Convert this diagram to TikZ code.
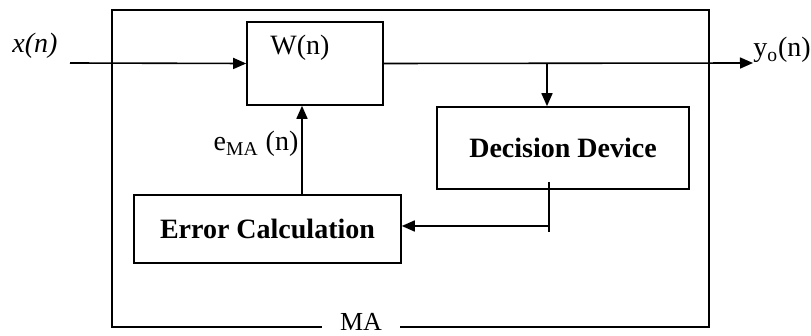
\documentclass[tikz,border=0pt]{standalone}
\usepackage{fontspec}
\setmainfont{Liberation Serif}
\usepackage{tikz}
\usetikzlibrary{arrows.meta}
\usetikzlibrary{positioning}

\begin{document}
\begin{tikzpicture}[x=0.5pt, y=-0.5pt, >={Triangle[length=6.5pt,width=5.5pt]},
                    every path/.style={line width=0.8pt},
                    blk/.style={draw=black, rectangle, inner sep=0pt},
                    lbl/.style={font=\fontsize{14}{16}\selectfont},
                    blbl/.style={font=\fontsize{14}{16}\selectfont\bfseries}]
\useasboundingbox (0,0) rectangle (811,336);

% outer block
\draw (112,10) rectangle (709,327);
\node[fill=white, inner xsep=9pt, inner ysep=0pt, minimum height=11pt,
      font=\fontsize{13}{15}\selectfont] (ma) at (361,322) {MA};

% blocks
\node[blk, minimum width=68pt, minimum height=41.5pt] (w) at (315,63.5) {};
\node[lbl] (wl) at (300,48) {W(n)};
\node[blk, blbl, minimum width=126pt, minimum height=41pt] (dd) at (563,148) {Decision Device};
\node[blk, blbl, minimum width=133.5pt, minimum height=34pt] (ec) at (267.5,229) {Error Calculation};

% signals
\coordinate (xin) at (70,63);
\coordinate (yo) at (753,63);
\coordinate (br) at (547,63);
\coordinate (fb) at (549,226);
\coordinate (eu) at (302,195);
\node[lbl, font=\fontsize{14}{16}\selectfont\itshape] (xl) at (35,46) {x(n)};
\node[lbl] (yl) at (782,50) {y\textsubscript{o}(n)};
\node[lbl] (el) at (256,144) {e\textsubscript{MA} (n)};

\draw[->] (xin) -- (w.west);
\draw[->] (w.east) -- (yo);
\draw[->] (br) -- (br |- dd.north);
\draw ([yshift=4pt]dd.south -| fb) -- ([yshift=-3pt]fb);
\draw[->] (fb) -- (fb -| ec.east);
\draw[->] (eu) -- (eu |- w.south);
\end{tikzpicture}
\end{document}
